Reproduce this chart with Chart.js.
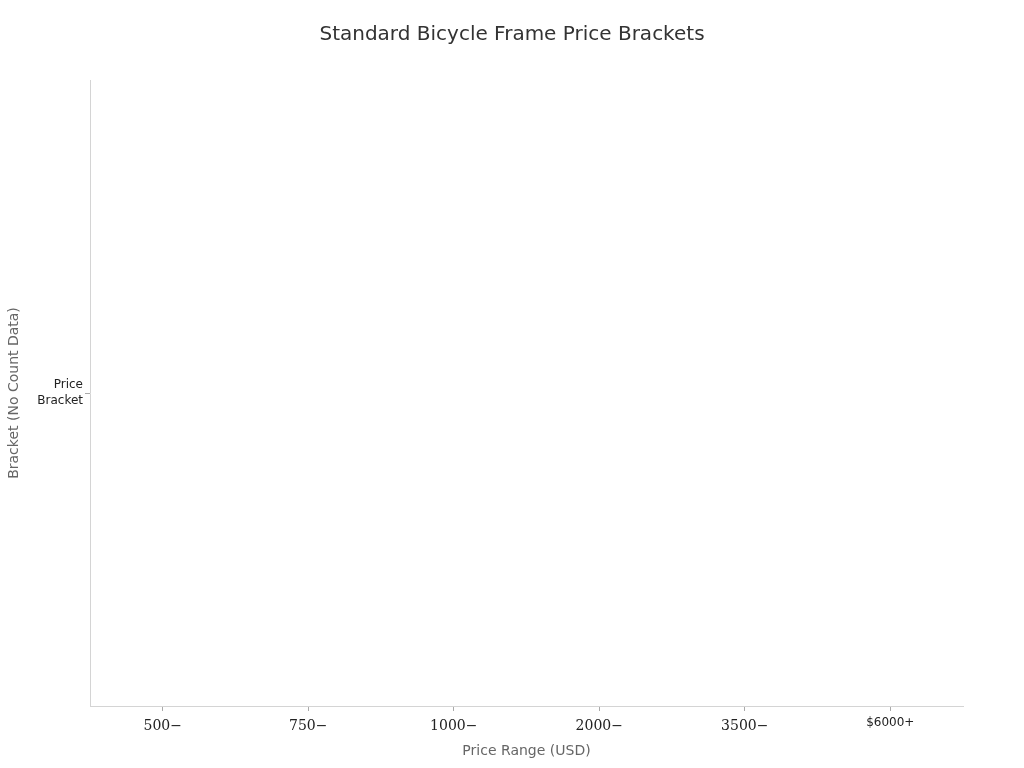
<!DOCTYPE html>
<html>
<head>
<meta charset="utf-8">
<script src="https://cdn.jsdelivr.net/npm/chart.js@4"></script>
<style>
html,body{margin:0;padding:0;background:#fff;}
#wrap{width:1024px;height:768px;}
</style>
</head>
<body>
<div id="wrap"><canvas id="c" width="1024" height="768"></canvas></div>
<script>
const titleText = 'Standard Bicycle Frame Price Brackets';
const categories = ['500\u2212', '750\u2212', '1000\u2212', '2000\u2212', '3500\u2212', '$6000+'];
const bracketLabels = [['Price', 'Bracket']];
const counts = [null, null, null, null, null, null];
const xTitle = 'Price Range (USD)';
const yTitle = 'Bracket (No Count Data)';

const sans = 'DejaVu Sans';
const serif = 'DejaVu Serif';

new Chart(document.getElementById('c'), {
  type: 'bar',
  data: {
    labels: categories,
    datasets: [{ label: 'Price Bracket', data: counts, backgroundColor: '#4c72b0' }]
  },
  options: {
    responsive: false,
    animation: false,
    layout: { padding: { top: 0, left: 0, right: 0, bottom: 0 } },
    plugins: {
      legend: { display: false },
      tooltip: { enabled: false },
      title: {
        display: true, text: titleText, color: '#333',
        font: { family: sans, size: 20, weight: 'normal' },
        padding: { top: 23, bottom: 33 }
      }
    },
    scales: {
      x: {
        type: 'category',
        offset: true,
        grid: { drawOnChartArea: false, offset: false, tickLength: 5, color: '#aaa' },
        border: { color: '#d4d4d4' },
        ticks: {
          color: '#222', padding: 7, maxRotation: 0, autoSkip: false,
          font: (ctx) => ctx.index === 5
            ? { family: sans, size: 12, lineHeight: 0.8 }
            : { family: serif, size: 14, lineHeight: 1.2 }
        },
        title: { display: true, text: xTitle, color: '#666', font: { family: sans, size: 14 }, padding: { top: 4, bottom: 8 } },
        afterFit: (s) => { s.height = 62; }
      },
      y: {
        type: 'category',
        labels: bracketLabels,
        offset: true,
        grid: { drawOnChartArea: false, offset: false, tickLength: 5, color: '#aaa' },
        border: { color: '#d4d4d4' },
        ticks: { color: '#222', padding: 2, font: { family: sans, size: 12, lineHeight: 1.33 } },
        title: { display: true, text: yTitle, color: '#666', font: { family: sans, size: 14 }, padding: { top: 6, bottom: 4 } },
        afterFit: (s) => { s.width = 90; }
      },
      yRight: {
        type: 'linear',
        position: 'right',
        display: true,
        grid: { display: false },
        border: { display: false },
        ticks: { display: false },
        afterFit: (s) => { s.width = 61; }
      }
    }
  }
});
</script>
</body>
</html>
